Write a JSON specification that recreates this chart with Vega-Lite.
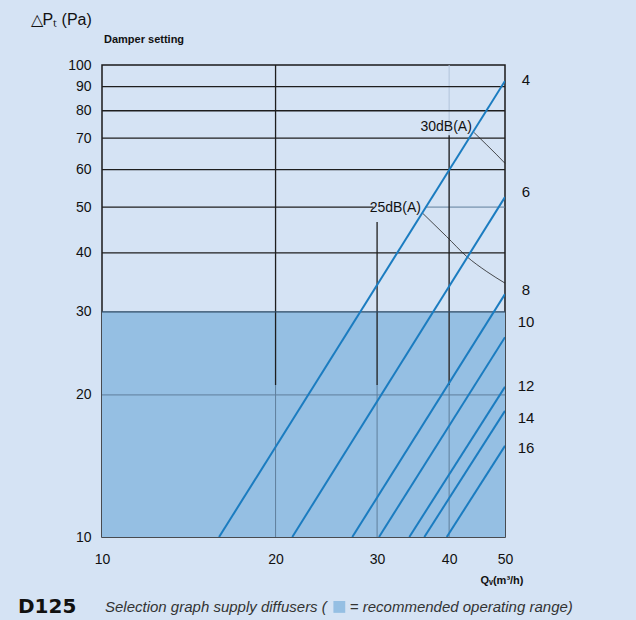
{
  "$schema": "https://vega.github.io/schema/vega-lite/v6.json",
  "autosize": {"type": "none"},
  "width": 403,
  "height": 472,
  "padding": {"left": 102, "top": 65, "right": 131, "bottom": 83},
  "background": "#d5e3f4",
  "config": {
    "view": {"stroke": "#1a1a1a", "strokeWidth": 1.5, "fill": "#d5e3f4"},
    "text": {"font": "Liberation Sans", "color": "#111"}
  },
  "datasets": {
    "range": [{"Q": 10, "Q2": 50, "P": 10, "P2": 30}],
    "vfaint": [
      {"Q": 40, "P": 21, "P2": 100}
    ],
    "vmed": [
      {"Q": 20, "P": 10, "P2": 21},
      {"Q": 30, "P": 10, "P2": 21},
      {"Q": 40, "P": 10, "P2": 21}
    ],
    "hmed": [
      {"Q": 10, "Q2": 50, "P": 20},
      {"Q": 36.3, "Q2": 50, "P": 50}
    ],
    "vdark": [
      {"Q": 20, "P": 21, "P2": 100},
      {"Q": 30, "P": 21, "P2": 46.5},
      {"Q": 40, "P": 21, "P2": 71}
    ],
    "hdark": [
      {"Q": 10, "Q2": 50, "P": 40},
      {"Q": 10, "Q2": 29.6, "P": 50},
      {"Q": 10, "Q2": 50, "P": 60},
      {"Q": 10, "Q2": 50, "P": 70},
      {"Q": 10, "Q2": 50, "P": 80},
      {"Q": 10, "Q2": 50, "P": 90}
    ],
    "hedge": [{"Q": 10, "Q2": 50, "P": 30}],
    "labelbox": [{"Q": 29.6, "Q2": 36.3, "P": 46.5, "P2": 52}],
    "noise": [
      {"level": "30", "Q": 44.2, "P": 71.9},
      {"level": "30", "Q": 46.5, "P": 67.7},
      {"level": "30", "Q": 48.4, "P": 64.5},
      {"level": "30", "Q": 50, "P": 61.9},
      {"level": "25", "Q": 36.0, "P": 48.5},
      {"level": "25", "Q": 39.6, "P": 43.3},
      {"level": "25", "Q": 42.9, "P": 39.3},
      {"level": "25", "Q": 46.5, "P": 36.5},
      {"level": "25", "Q": 50, "P": 34.5}
    ],
    "lines": [
      {"setting": "4", "Q": 15.96, "P": 10},
      {"setting": "4", "Q": 50, "P": 92.5},
      {"setting": "6", "Q": 21.38, "P": 10},
      {"setting": "6", "Q": 50, "P": 52.5},
      {"setting": "8", "Q": 27.17, "P": 10},
      {"setting": "8", "Q": 50, "P": 32.7},
      {"setting": "10", "Q": 30.23, "P": 10},
      {"setting": "10", "Q": 50, "P": 26.5},
      {"setting": "12", "Q": 34.12, "P": 10},
      {"setting": "12", "Q": 50, "P": 20.8},
      {"setting": "14", "Q": 36.23, "P": 10},
      {"setting": "14", "Q": 50, "P": 18.5},
      {"setting": "16", "Q": 39.62, "P": 10},
      {"setting": "16", "Q": 50, "P": 15.6}
    ],
    "tags": [
      {"setting": "4", "Q": 50, "P": 92.9},
      {"setting": "6", "Q": 50, "P": 53.8},
      {"setting": "8", "Q": 50, "P": 33.4},
      {"setting": "10", "Q": 50, "P": 28.5},
      {"setting": "12", "Q": 50, "P": 20.9},
      {"setting": "14", "Q": 50, "P": 17.9},
      {"setting": "16", "Q": 50, "P": 15.4}
    ],
    "dblabels": [
      {"label": "30dB(A)", "Q": 43.8, "P": 73.9},
      {"label": "25dB(A)", "Q": 35.75, "P": 49.8}
    ],
    "header": [{"label": "Damper setting", "Q": 10, "P": 113}],
    "code": [{"label": "D125", "Q": 10, "P": 7.11}],
    "caption1": [{"label": "Selection graph supply diffusers  (", "Q": 10, "P": 7.11}],
    "swatch": [{"Q": 25.8, "P": 7.11}],
    "caption2": [{"label": "= recommended operating range)", "Q": 26.9, "P": 7.11}]
  },
  "encoding": {
    "x": {
      "field": "Q", "type": "quantitative",
      "scale": {"type": "log", "domain": [10, 50], "nice": false, "zero": false},
      "axis": {
        "values": [10, 20, 30, 40, 50], "grid": false, "ticks": false, "domain": false,
        "labelFont": "Liberation Sans",
        "labelFontSize": 14, "labelColor": "#111", "labelPadding": 15,
        "labelFlush": false,
        "title": "Qᵥ(m³/h)", "titleFont": "Liberation Sans",
        "titleFontSize": 11, "titleFontWeight": "bold", "titleColor": "#111",
        "titleX": 421, "titleY": 46, "titleAlign": "right", "titleBaseline": "alphabetic", "titleAnchor": null
      }
    },
    "y": {
      "field": "P", "type": "quantitative",
      "scale": {"type": "log", "domain": [10, 100], "nice": false, "zero": false},
      "axis": {
        "values": [10, 20, 30, 40, 50, 60, 70, 80, 90, 100], "grid": false, "ticks": false, "domain": false,
        "labelFont": "Liberation Sans",
        "labelFontSize": 14, "labelColor": "#111", "labelPadding": 11,
        "labelFlush": false, "labelOverlap": false,
        "title": "△Pₜ (Pa)", "titleFont": "Liberation Sans",
        "titleFontSize": 16, "titleFontWeight": "normal", "titleColor": "#111",
        "titleAngle": 0, "titleX": -72, "titleY": -41, "titleAlign": "left", "titleBaseline": "alphabetic"
      }
    }
  },
  "layer": [
    {
      "data": {"name": "range"},
      "mark": {"type": "rect", "color": "#95bfe3"},
      "encoding": {"x2": {"field": "Q2"}, "y2": {"field": "P2"}}
    },
    {
      "data": {"name": "vfaint"},
      "mark": {"type": "rule", "color": "#b3c5db", "strokeWidth": 1},
      "encoding": {"y2": {"field": "P2"}}
    },
    {
      "data": {"name": "vmed"},
      "mark": {"type": "rule", "color": "#5f7e9b", "strokeWidth": 1},
      "encoding": {"y2": {"field": "P2"}}
    },
    {
      "data": {"name": "hmed"},
      "mark": {"type": "rule", "color": "#5f7e9b", "strokeWidth": 1},
      "encoding": {"x2": {"field": "Q2"}}
    },
    {
      "data": {"name": "vdark"},
      "mark": {"type": "rule", "color": "#1e1e1e", "strokeWidth": 1.3},
      "encoding": {"y2": {"field": "P2"}}
    },
    {
      "data": {"name": "hdark"},
      "mark": {"type": "rule", "color": "#1e1e1e", "strokeWidth": 1.3},
      "encoding": {"x2": {"field": "Q2"}}
    },
    {
      "data": {"name": "hedge"},
      "mark": {"type": "rule", "color": "#2c4863", "strokeWidth": 1.3},
      "encoding": {"x2": {"field": "Q2"}}
    },
    {
      "data": {"name": "labelbox"},
      "mark": {"type": "rect", "color": "#d5e3f4"},
      "encoding": {"x2": {"field": "Q2"}, "y2": {"field": "P2"}}
    },
    {
      "data": {"name": "noise"},
      "mark": {"type": "line", "color": "#222", "strokeWidth": 0.8, "interpolate": "monotone"},
      "encoding": {"detail": {"field": "level"}}
    },
    {
      "data": {"name": "lines"},
      "mark": {"type": "line", "color": "#1b7cc0", "clip": true},
      "encoding": {
        "detail": {"field": "setting"},
        "strokeWidth": {
          "field": "setting", "type": "nominal",
          "scale": {"domain": ["4", "6", "8", "10", "12", "14", "16"], "range": [2, 2, 1.8, 1.5, 1.2, 1.2, 1.2]},
          "legend": null
        }
      }
    },
    {
      "data": {"name": "tags"},
      "mark": {"type": "text", "fontSize": 15, "align": "center", "baseline": "middle", "dx": 21},
      "encoding": {"text": {"field": "setting"}}
    },
    {
      "data": {"name": "dblabels"},
      "mark": {"type": "text", "fontSize": 14, "align": "right", "baseline": "middle"},
      "encoding": {"text": {"field": "label"}}
    },
    {
      "data": {"name": "header"},
      "mark": {"type": "text", "fontSize": 11, "fontWeight": "bold", "align": "left", "baseline": "middle", "dx": 2},
      "encoding": {"text": {"field": "label"}}
    },
    {
      "data": {"name": "code"},
      "mark": {"type": "text", "font": "DejaVu Sans", "fontSize": 20, "fontWeight": "bold", "align": "left", "baseline": "middle", "dx": -84, "color": "#111"},
      "encoding": {"text": {"field": "label"}}
    },
    {
      "data": {"name": "caption1"},
      "mark": {"type": "text", "fontSize": 15, "fontStyle": "italic", "align": "left", "baseline": "middle", "dx": 3, "color": "#333"},
      "encoding": {"text": {"field": "label"}}
    },
    {
      "data": {"name": "swatch"},
      "mark": {"type": "square", "filled": true, "color": "#95bfe3", "opacity": 1, "size": 140}
    },
    {
      "data": {"name": "caption2"},
      "mark": {"type": "text", "fontSize": 15, "fontStyle": "italic", "align": "left", "baseline": "middle", "color": "#333"},
      "encoding": {"text": {"field": "label"}}
    }
  ]
}
